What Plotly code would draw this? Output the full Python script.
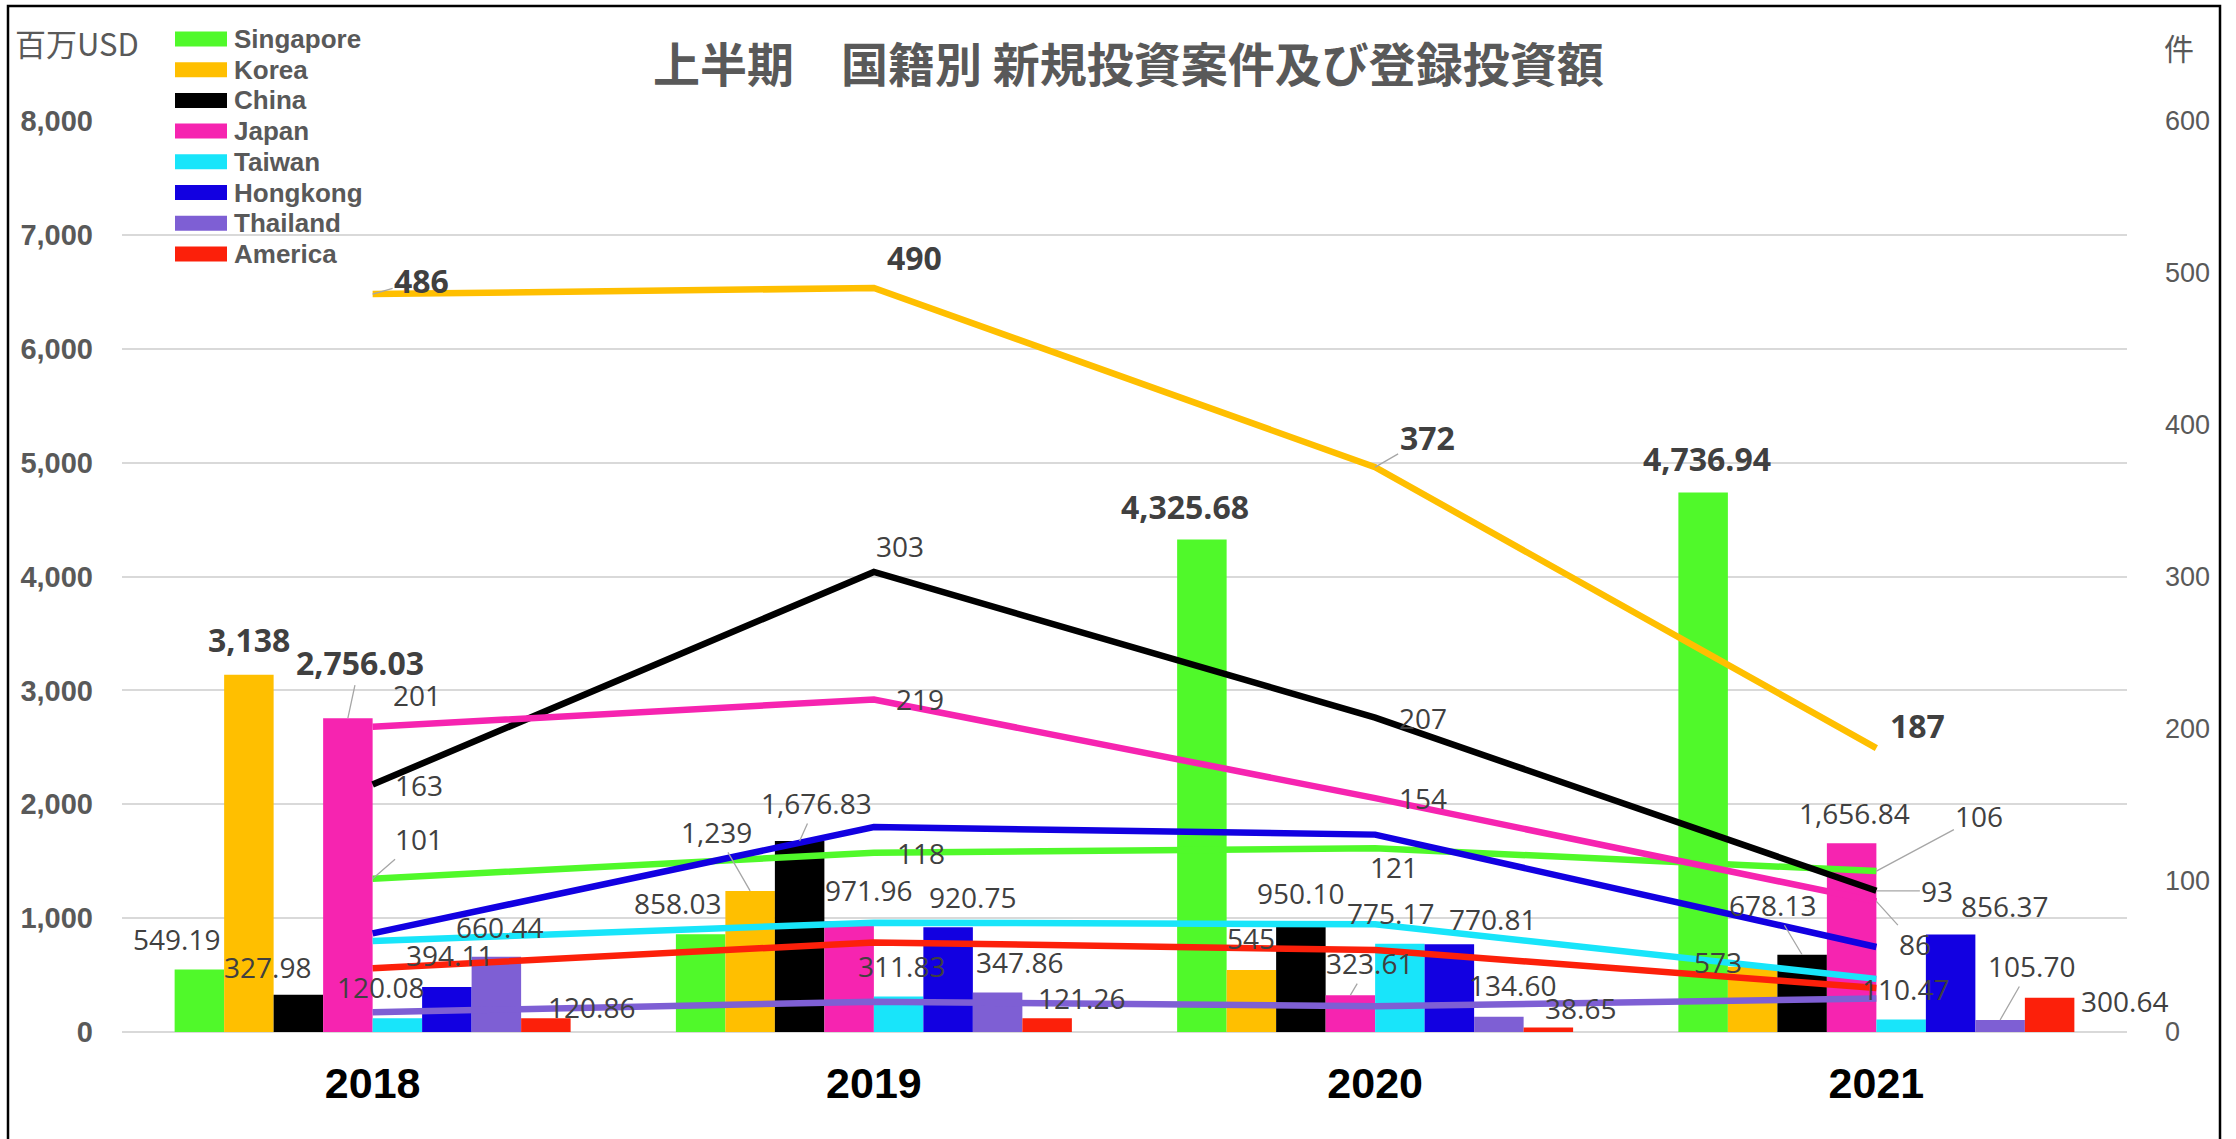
import plotly.graph_objects as go

# ---------------- data ----------------
years = ["2018", "2019", "2020", "2021"]
countries = ["Singapore", "Korea", "China", "Japan", "Taiwan", "Hongkong", "Thailand", "America"]

# registered investment (million USD) – bars, left axis
amt_singapore = [549.19, 858.03, 4325.68, 4736.94]
amt_korea = [3138, 1239, 545, 573]
amt_china = [327.98, 1676.83, 950.10, 678.13]
amt_japan = [2756.03, 971.96, 323.61, 1656.84]
amt_taiwan = [120.08, 311.83, 775.17, 110.47]
amt_hongkong = [394.11, 920.75, 770.81, 856.37]
amt_thailand = [660.44, 347.86, 134.60, 105.70]
amt_america = [120.86, 121.26, 38.65, 300.64]

# number of new projects (件) – lines, right axis
cnt_singapore = [101, 118, 121, 106]
cnt_korea = [486, 490, 372, 187]
cnt_china = [163, 303, 207, 93]
cnt_japan = [201, 219, 154, 86]
cnt_taiwan = [60, 72, 71, 35]
cnt_hongkong = [65, 135, 130, 56]
cnt_thailand = [13, 20, 17, 22]
cnt_america = [42, 59, 54, 29]

amounts = [amt_singapore, amt_korea, amt_china, amt_japan,
           amt_taiwan, amt_hongkong, amt_thailand, amt_america]
counts = [cnt_singapore, cnt_korea, cnt_china, cnt_japan,
          cnt_taiwan, cnt_hongkong, cnt_thailand, cnt_america]
labelled_counts = ["Singapore", "Korea", "China", "Japan"]

title_text = "上半期　国籍別 新規投資案件及び登録投資額"
left_unit = "百万USD"
right_unit = "件"

# ---------------- style ----------------
colors = ["#50F92A", "#FFBF00", "#000000", "#F624B0",
          "#18E5FA", "#1200E1", "#7E5FD4", "#FC200A"]

W, H = 2236, 1139
L, R, T, B = 122, 109, 121, 107
PW = W - L - R
PH = H - T - B
BARGAP = 0.21
GRAY = "#595959"
LBL = "#404040"
LEAD = "#A6A6A6"
SANS = "Liberation Sans"
LBLFONT = "Open Sans"

# label offsets (dx px, dy px upward, leader?, bold?) relative to bar top / line point
bar_off = {
    "Singapore": [(-23, 30, 0, 0), (-23, 31, 0, 0), (-17, 33, 0, 1), (4, 34, 0, 1)],
    "Korea":     [(0, 35, 0, 1), (-34, 59, 1, 0), (0, 32, 0, 0), (-35, 5, 0, 0)],
    "China":     [(-31, 28, 0, 0), (17, 38, 1, 0), (0, 31, 0, 0), (-30, 50, 1, 0)],
    "Japan":     [(12, 56, 1, 1), (19, 31, 0, 0), (19, 32, 1, 0), (3, 30, 0, 0)],
    "Taiwan":    [(-17, 31, 0, 0), (3, 30, 0, 0), (-9, 31, 0, 0), (4, 30, 0, 0)],
    "Hongkong":  [(3, 32, 0, 0), (24, 30, 0, 0), (43, 25, 0, 0), (54, 28, 0, 0)],
    "Thailand":  [(3, 30, 0, 0), (22, 30, 0, 0), (14, 32, 0, 0), (31, 54, 1, 0)],
    "America":   [(46, 11, 0, 0), (34, 20, 0, 0), (32, 20, 0, 0), (75, -3, 0, 0)],
}
line_off = {
    "Singapore": [(46, 40, 1, 0), (47, 0, 0, 0), (19, -19, 0, 0), (103, 55, 1, 0)],
    "Korea":     [(49, 14, 1, 1), (41, 31, 0, 1), (52, 30, 1, 1), (41, 23, 0, 1)],
    "China":     [(46, 0, 0, 0), (26, 26, 0, 0), (48, 0, 0, 0), (61, 0, 1, 0)],
    "Japan":     [(44, 32, 0, 0), (46, 0, 0, 0), (48, 0, 0, 0), (39, -43, 1, 0)],
}


def px_x(px):
    return (px - L) / PW


def px_y(py):
    return (H - B - py) / PH


def fmt(v):
    if float(v).is_integer():
        return f"{v:,.0f}"
    return f"{v:,.2f}"


fig = go.Figure()

# bars
for name, vals, col in zip(countries, amounts, colors):
    fig.add_trace(go.Bar(x=years, y=vals, name=name, marker=dict(color=col, line=dict(width=0)),
                         yaxis="y", showlegend=False))

# lines
for name, vals, col in zip(countries, counts, colors):
    fig.add_trace(go.Scatter(x=years, y=vals, name=name, mode="lines",
                             line=dict(color=col, width=6.5), yaxis="y2", showlegend=False))

annotations = []
n = len(countries)
bw = (1 - BARGAP) / n


def add_label(x, y, yref, text, dx, dy, lead, bold):
    annotations.append(dict(
        x=x, y=y, xref="x", yref=yref, text=text,
        showarrow=True, ax=dx, ay=-dy, axref="pixel", ayref="pixel",
        arrowhead=0, arrowwidth=1.3, standoff=0,
        arrowcolor=LEAD if lead else "rgba(0,0,0,0)",
        font=dict(family=LBLFONT, size=32 if bold else 28, color=LBL,
                  weight="bold" if bold else "normal"),
    ))


for i, (name, vals) in enumerate(zip(countries, amounts)):
    for j, v in enumerate(vals):
        xpos = j - (1 - BARGAP) / 2 + bw * (i + 0.5)
        dx, dy, lead, bold = bar_off[name][j]
        add_label(xpos, v, "y", fmt(v), dx, dy, lead, bold)

for name, vals in zip(countries, counts):
    if name not in labelled_counts:
        continue
    for j, v in enumerate(vals):
        dx, dy, lead, bold = line_off[name][j]
        add_label(j, v, "y2", fmt(v), dx, dy, lead, bold)

# title & unit labels
annotations.append(dict(x=px_x(1128), y=px_y(61), xref="paper", yref="paper", text=title_text,
                        showarrow=False, xanchor="center", yanchor="middle",
                        font=dict(family="Noto Sans CJK JP", size=47, color=GRAY, weight="bold")))
annotations.append(dict(x=px_x(13), y=px_y(42), xref="paper", yref="paper", text=left_unit,
                        showarrow=False, xanchor="left", yanchor="middle",
                        font=dict(family="Noto Sans CJK JP", size=31, color=GRAY)))
annotations.append(dict(x=px_x(2179), y=px_y(47), xref="paper", yref="paper", text=right_unit,
                        showarrow=False, xanchor="center", yanchor="middle",
                        font=dict(family="Noto Sans CJK JP", size=30, color=GRAY)))

# custom legend
shapes = []
leg_y0 = 39
leg_step = 30.7
for i, (name, col) in enumerate(zip(countries, colors)):
    yc = leg_y0 + i * leg_step
    shapes.append(dict(type="rect", xref="paper", yref="paper",
                       x0=px_x(175), x1=px_x(227), y0=px_y(yc + 7.5), y1=px_y(yc - 7.5),
                       fillcolor=col, line=dict(width=0), layer="above"))
    annotations.append(dict(x=px_x(232), y=px_y(yc), xref="paper", yref="paper", text=name,
                            showarrow=False, xanchor="left", yanchor="middle",
                            font=dict(family=SANS, size=26, color=GRAY, weight="bold")))

# outer frame
shapes.append(dict(type="rect", xref="paper", yref="paper",
                   x0=px_x(8), x1=px_x(2220), y0=px_y(1150), y1=px_y(6),
                   line=dict(color="#000000", width=2.5), fillcolor="rgba(0,0,0,0)"))

fig.update_layout(
    width=W, height=H,
    margin=dict(l=L, r=R, t=T, b=B, pad=0),
    paper_bgcolor="white", plot_bgcolor="white",
    barmode="group", bargap=BARGAP, bargroupgap=0,
    showlegend=False,
    annotations=annotations, shapes=shapes,
    xaxis=dict(type="category", categoryorder="array", categoryarray=years,
               range=[-0.5, 3.5], showgrid=False, zeroline=False, showline=False,
               ticks="", ticklabelstandoff=22,
               tickfont=dict(family=SANS, size=43, color="#000000", weight="bold")),
    yaxis=dict(range=[0, 8000], dtick=1000, tickformat=",", showgrid=True,
               gridcolor="#D9D9D9", gridwidth=2, zeroline=True, zerolinecolor="#D9D9D9",
               zerolinewidth=2, showline=False, ticks="", ticklabelstandoff=28,
               tickfont=dict(family=SANS, size=29, color=GRAY, weight="bold")),
    yaxis2=dict(range=[0, 600], dtick=100, overlaying="y", side="right", showgrid=False,
                zeroline=False, showline=False, ticks="", ticklabelstandoff=37,
                tickfont=dict(family=SANS, size=27, color=GRAY)),
)

fig.write_html("out.html", config={"displayModeBar": False},
               post_script="document.body.style.margin='0';document.body.style.overflow='hidden';")
